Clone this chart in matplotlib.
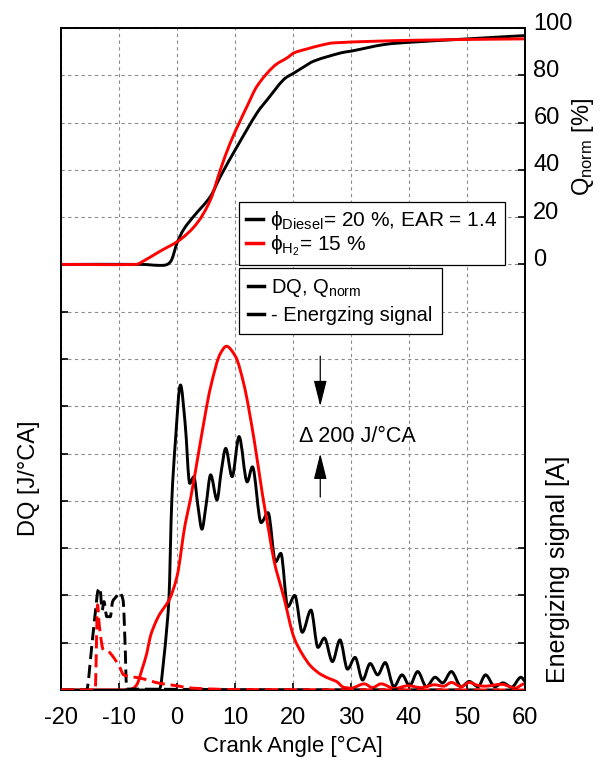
import numpy as np
import matplotlib
matplotlib.use('Agg')
import matplotlib.pyplot as plt
from matplotlib.lines import Line2D
from matplotlib.path import Path
from matplotlib.patches import PathPatch
from matplotlib.transforms import ScaledTranslation

plt.rcParams['font.family'] = ['Liberation Sans', 'DejaVu Sans']
plt.rcParams['mathtext.fontset'] = 'custom'
plt.rcParams['mathtext.rm'] = 'Liberation Sans'
plt.rcParams['mathtext.it'] = 'Liberation Sans:italic'
plt.rcParams['mathtext.fallback'] = 'stixsans'
plt.rcParams['axes.unicode_minus'] = False

# normalised heat release Q_norm [%]
ca_q_diesel = [-20, -6, -3, -1.7, -0.9, 0, 1.15, 2.9, 5.8, 7.5, 10.4, 13.8, 15.6, 18.4, 20.2,
               21.5, 23.6, 28.3, 30, 35.7, 40.4, 50.1, 60]
q_diesel = [0, 0, -0.4, 0, 2.1, 9, 14.8, 20.4, 28.9, 37.3, 50, 64.1, 69.8, 78.2, 81,
            83, 86, 89.5, 90.2, 93, 94, 95.4, 96.8]
ca_q_h2 = [-20, -7, -6.3, -2.9, 0.6, 3.5, 5.8, 7.5, 9.2, 11, 12.1, 13.8, 16.7, 19, 20.2,
           22.5, 24.8, 27, 40.4, 60]
q_h2 = [0, 0, 0.7, 5.6, 10.6, 17.6, 27.5, 40.2, 51.5, 61.3, 67, 75.4, 83.8, 87.4, 89.5,
        91.2, 92.7, 93.7, 94.8, 95.4]

# rate of heat release DQ [J/°CA]
ca_dq_diesel = [-20, -3.2, -2.9, -2.3, -1.7, -1.4, -0.9, -0.3, 0.6, 1.4, 2.2, 2.9, 3.6, 4.3,
                5.0, 5.8, 6.9, 7.6, 8.4, 9.5, 10.7, 12.1, 13.0, 14.5, 15.7, 17.0, 17.9, 19.1,
                20.3, 21.6, 23.1, 24.3, 25.4, 26.8, 28.1, 29.4, 30.7, 32.0, 33.3, 34.6, 35.9,
                37.4, 38.8, 40.1, 41.5, 43.0, 44.5, 45.8, 47.3, 49.0, 50.4, 51.9, 53.2, 54.8,
                56.2, 57.7, 59.3, 60]
dq_diesel = [0, 0, 10, 126, 280, 380, 800, 1044, 1290, 1128, 874, 902, 780, 680,
             780, 910, 804, 920, 1022, 902, 1072, 880, 944, 708, 750, 542, 578, 352,
             400, 244, 338, 180, 220, 120, 212, 88, 138, 42, 112, 64, 116,
             14, 64, 18, 78, 14, 54, 30, 78, 14, 36, 14, 64, 14,
             30, 12, 54, 36]
ca_dq_h2 = [-20, -8.6, -7.5, -6.9, -6.0, -5.2, -4.6, -3.5, -2.9, -2.0, -1.3, 0, 1.4, 2.3,
            4.0, 5.8, 7.5, 8.5, 10.1, 11.5, 13.3, 14.7, 15.8, 16.7, 18.4, 20.2, 21.5, 23.1,
            24.8, 26.5, 27.5, 28.7, 30, 32.3, 33.7, 35.2, 37.5, 39.8, 42.1, 44.4, 46, 47.3,
            49, 50.4, 51.8, 53, 56, 58.3, 59.9, 60]
dq_h2 = [0, 0, 8, 24, 90, 156, 226, 296, 324, 356, 384, 480, 700, 804,
         1044, 1282, 1424, 1454, 1410, 1296, 1058, 832, 676, 550, 394, 220, 156, 100,
         66, 46, 36, 12, 8, 26, 10, 26, 6, 18, 10, 22, 16, 32,
         14, 32, 20, 16, 24, 8, 26, 24]

# energizing signal [A]
ca_es_diesel = [-20, -15.6, -14.7, -14.1, -13.6, -13.3, -12.9, -12.6, -12.1, -11.5, -11.1,
                -10.5, -9.9, -9.3, -8.9, -8.7, 60]
es_diesel = [0, 0, 9.2, 16.2, 21.1, 21.6, 16.9, 18.7, 15.5, 15.5, 18.7,
             19.7, 20.6, 19.0, 7.8, 0.2, 0]
ca_es_h2 = [-20, -14.1, -13.7, -13.4, -12.7, -11.8, -11.0, -9.9, -9.2, -6.3, -2.9, -0.6,
            2.6, 10, 60]
es_h2 = [0, 0, 18.0, 13.7, 8.5, 8.1, 7.0, 4.9, 3.2, 2.5, 1.4, 1.0,
         0.4, 0.1, 0]


def smooth_curve(ax, x, y, monotone=True, **kw):
    # bezier path through the read points
    x = np.asarray(x, float)
    y = np.asarray(y, float)
    h = np.diff(x)
    d = np.diff(y) / h
    m = np.zeros_like(y)
    m[0], m[-1] = d[0], d[-1]
    for k in range(1, len(x) - 1):
        if not monotone:
            m[k] = (y[k + 1] - y[k - 1]) / (x[k + 1] - x[k - 1])
        elif d[k - 1] * d[k] > 0:
            w1 = 2 * h[k] + h[k - 1]
            w2 = h[k] + 2 * h[k - 1]
            m[k] = (w1 + w2) / (w1 / d[k - 1] + w2 / d[k])
    verts = [(x[0], y[0])]
    codes = [Path.MOVETO]
    for k in range(len(x) - 1):
        verts += [(x[k] + h[k] / 3, y[k] + m[k] * h[k] / 3),
                  (x[k + 1] - h[k] / 3, y[k + 1] - m[k + 1] * h[k] / 3),
                  (x[k + 1], y[k + 1])]
        codes += [Path.CURVE4] * 3
    patch = PathPatch(Path(verts, codes), fill=False, capstyle='butt', joinstyle='round', **kw)
    ax.add_patch(patch)
    return patch


fig = plt.figure(figsize=(6.05, 7.6), dpi=100)
ax = fig.add_axes([61 / 605, 70 / 760, 464 / 605, 662 / 760])
axq = ax.twinx()
axe = ax.twinx()

grid_kw = dict(color='#8c8c8c', linestyle=(0, (3, 3)), linewidth=0.8)
ax.set_xlim(-20, 60)
ax.set_ylim(0, 2800)
ax.set_xticks(np.arange(-20, 61, 10))
ax.set_yticks(np.arange(0, 2801, 200))
ax.set_yticklabels([])
ax.grid(True, **grid_kw)
ax.set_axisbelow(True)
ax.tick_params(axis='both', direction='in', length=5, width=1.2, labelsize=17)
ax.tick_params(axis='x', pad=12)
for t in ax.yaxis.get_major_ticks()[10:]:
    t.tick1line.set_visible(False)
for s in ax.spines.values():
    s.set_linewidth(1.3)

smooth_curve(ax, ca_dq_diesel, dq_diesel, edgecolor='black', lw=2.1)
smooth_curve(ax, ca_dq_h2, dq_h2, edgecolor='#ff0000', lw=2.1)

axq.set_ylim(-180, 100)
axq.set_yticks([-160, -140, -120, 0, 20, 40, 60, 80, 100])
axq.set_yticklabels(['', '', '', '0', '20', '40', '60', '80', '100'])
axq.tick_params(axis='y', direction='in', length=5, width=1.2, labelsize=17, pad=6)
for lbl in axq.get_yticklabels():
    lbl.set_transform(lbl.get_transform() + ScaledTranslation(0, 5 / 72, fig.dpi_scale_trans))
for s in axq.spines.values():
    s.set_linewidth(1.3)
smooth_curve(axq, ca_q_diesel, q_diesel, monotone=False, edgecolor='black', lw=2.1)
smooth_curve(axq, ca_q_h2, q_h2, monotone=False, edgecolor='#ff0000', lw=2.1)

axe.set_ylim(0, 140)
axe.set_yticks([])
for s in axe.spines.values():
    s.set_visible(False)
smooth_curve(axe, ca_es_diesel, es_diesel, edgecolor='black', lw=2.1, linestyle=(0, (4.5, 2)))
smooth_curve(axe, ca_es_h2, es_h2, edgecolor='#ff0000', lw=2.1, linestyle=(0, (4.5, 2)))

# delta annotation
arrow = dict(arrowstyle='-|>,head_length=0.8,head_width=0.2', color='black', lw=0.9,
             mutation_scale=20, shrinkA=0, shrinkB=0)
ax.annotate('', xy=(24.7, 1200), xytext=(24.7, 1412), arrowprops=arrow)
ax.annotate('', xy=(24.7, 1000), xytext=(24.7, 816), arrowprops=arrow)
ax.text(21.0, 1074, 'Δ 200 J/°CA', fontsize=15.5, ha='left', va='center')

leg_kw = dict(loc='upper left', frameon=True, fancybox=False, edgecolor='black',
              framealpha=1, handlelength=0.8, handletextpad=0.35, borderaxespad=0)
h1 = [Line2D([], [], color='black', lw=2.5), Line2D([], [], color='#ff0000', lw=2.5)]
leg1 = axe.legend(h1, [r'$\mathrm{\phi_{Diesel}}$= 20 %, EAR = 1.4', r'$\mathrm{\phi_{H_2}}$= 15 %'],
                  bbox_to_anchor=(0.3836, 0.737), borderpad=0.35, labelspacing=0.05,
                  fontsize=15, **leg_kw)
leg1.get_frame().set_linewidth(0.9)
axe.add_artist(leg1)
h2 = [Line2D([], [], color='black', lw=2.5), Line2D([], [], color='black', lw=2.5)]
leg2 = axe.legend(h2, [r'DQ, Q$_{\mathrm{norm}}$', '- Energzing signal'],
                  bbox_to_anchor=(0.3836, 0.6375), borderpad=0.45, labelspacing=0.35,
                  fontsize=14.5, **leg_kw)
leg2.get_frame().set_linewidth(0.9)

fig.text(293 / 605, 1 - 746 / 760, 'Crank Angle [°CA]', fontsize=16, ha='center', va='center')
fig.text(29 / 605, 1 - 478 / 760, 'DQ [J/°CA]', fontsize=17, rotation=90, ha='center', va='center')
fig.text(583 / 605, 1 - 147 / 760, r'Q$_{\mathrm{norm}}$ [%]', fontsize=17, rotation=90,
         ha='center', va='center')
fig.text(558 / 605, 1 - 683 / 760, 'Energizing signal [A]', fontsize=18, rotation=90,
         ha='center', va='bottom')

fig.savefig('out.png', dpi=100)
